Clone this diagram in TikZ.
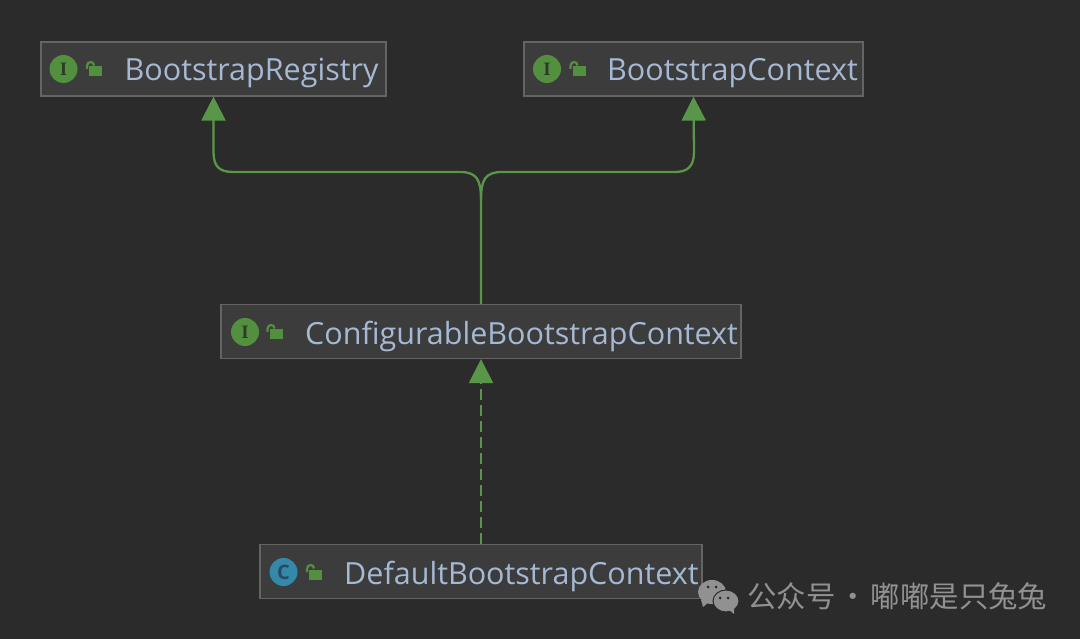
\documentclass[tikz,border=0pt]{standalone}
\usepackage{fontspec}
\setmainfont{Open Sans}
\newfontfamily\cjkfont{Noto Sans CJK SC}
\newfontfamily\iconfont{Liberation Serif}
\usetikzlibrary{arrows.meta}
\usetikzlibrary{shapes.geometric}
\definecolor{back_gray}{RGB}{43,43,43}
\definecolor{node_gray}{RGB}{60,60,60}
\definecolor{edge_gray}{RGB}{100,100,100}
\definecolor{text_blue}{RGB}{165,185,212}
\definecolor{edge_green}{RGB}{90,150,74}
\definecolor{icon_green}{RGB}{82,143,62}
\definecolor{icon_blue}{RGB}{52,136,170}
\definecolor{letter_green}{RGB}{45,60,40}
\definecolor{letter_blue}{RGB}{40,75,100}
\definecolor{mark_gray}{RGB}{145,145,145}
\tikzset{
  lockpic/.pic={
    \fill[icon_green] (-5.5,-2.5) rectangle (7.5,7.5);
    \draw[icon_green,line width=2.2pt] (-7.5,0) -- (-7.5,-3) .. controls (-7.5,-8.2) and (-0.5,-8.2) .. (-0.5,-3.5);
  }
}

\begin{document}
\begin{tikzpicture}[x=1pt,y=-1pt]
    \tikzstyle{classbox}=[draw=edge_gray,fill=node_gray,line width=1.2pt,minimum height=54pt,inner sep=0pt]
    \tikzstyle{classname}=[anchor=west,inner sep=0pt,text=text_blue,font=\fontsize{30.5}{36}\selectfont]
    \tikzstyle{iface}=[circle,fill=icon_green,minimum size=28pt,inner sep=0pt,text=letter_green,font=\iconfont\bfseries\fontsize{19}{20}\selectfont]
    \tikzstyle{cclass}=[style=iface,fill=icon_blue,text=letter_blue,font=\bfseries\fontsize{20}{20}\selectfont]
    \tikzstyle{inherit}=[draw=edge_green,line width=2.3pt,-{Triangle[width=24pt,length=24pt]}]
    \tikzstyle{wmtext}=[anchor=west,inner sep=0pt,text=mark_gray,font=\cjkfont\fontsize{29.4}{34}\selectfont]
    \tikzstyle{bubble}=[ellipse,fill=mark_gray,inner sep=0pt]
    \tikzstyle{bubbleeye}=[circle,fill=back_gray,minimum size=3pt,inner sep=0pt]

    \fill[back_gray] (0,0) rectangle (1080,639);

    \node[classbox,minimum width=345pt] (registry) at (213.5,69)   {};
    \node[classbox,minimum width=339pt] (context)  at (693.5,69)   {};
    \node[classbox,minimum width=520pt] (config)   at (481,331.5)  {};
    \node[classbox,minimum width=442pt] (default)  at (481,571.5)  {};

    \node[iface]  (registryicon) at (63.5,69)  {I};
    \node[iface]  (contexticon)  at (547,69)   {I};
    \node[iface]  (configicon)   at (245,332)  {I};
    \node[cclass] (defaulticon)  at (283.5,572) {C};

    \pic at (94.5,69)  {lockpic};
    \pic at (578,69)   {lockpic};
    \pic at (275,332)  {lockpic};
    \pic at (314.5,572) {lockpic};

    \node[classname] (registryname) at (124.5,73) {BootstrapRegistry};
    \node[classname] (contextname)  at (607,73)   {BootstrapContext};
    \node[classname] (configname)   at (305,336)  {ConfigurableBootstrapContext};
    \node[classname] (defaultname)  at (344,576)  {DefaultBootstrapContext};

    \coordinate (split) at (481,200);
    \path[inherit]
     (config.north) -- (split) .. controls (481,180) and (477,172) .. (460,172)
       -- (233,172) .. controls (219,172) and (213.5,166) .. (213.5,152) -- (registry.south);
    \path[inherit]
     (split) .. controls (481,180) and (485,172) .. (502,172)
       -- (675,172) .. controls (688,172) and (694,166) .. (694,152) -- (context.south);
    \path[inherit,dash pattern=on 11pt off 5pt] (default.north) -- (config.south);

    % watermark
    \fill[mark_gray] (701,600) -- (703,607) -- (709,602) -- cycle;
    \node[bubble,minimum width=28pt,minimum height=24pt] (wechatback) at (712,592) {};
    \node[bubble,draw=back_gray,line width=1pt,minimum width=26pt,minimum height=22pt] (wechatfront) at (726,601) {};
    \fill[mark_gray] (728,609) -- (734,614) -- (734,607) -- cycle;
    \node[bubbleeye] (backeyeleft)   at (708,587) {};
    \node[bubbleeye] (backeyeright)  at (716,587) {};
    \node[bubbleeye] (fronteyeleft)  at (720,598) {};
    \node[bubbleeye] (fronteyeright) at (728,598) {};
    \node[wmtext] (wechatname) at (747,596) {公众号\hspace{3pt}·\hspace{3pt}嘟嘟是只兔兔};
\end{tikzpicture}
\end{document}
